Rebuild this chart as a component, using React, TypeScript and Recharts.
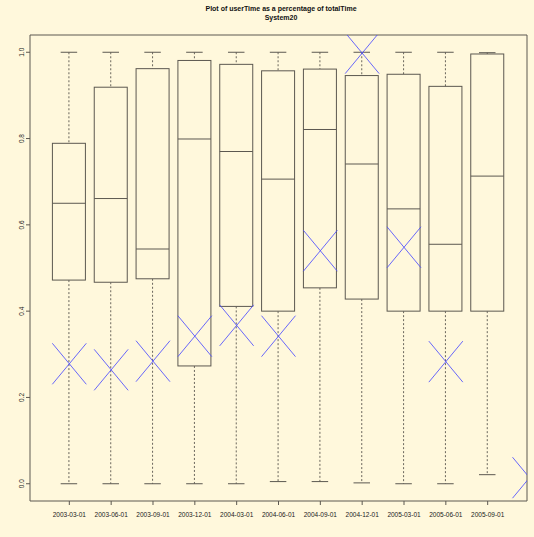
import React from "react";
import {
  ComposedChart,
  Bar,
  Scatter,
  XAxis,
  YAxis,
  ReferenceArea,
} from "recharts";

// box statistics, one entry per quarter
const categories = [
  "2003-03-01",
  "2003-06-01",
  "2003-09-01",
  "2003-12-01",
  "2004-03-01",
  "2004-06-01",
  "2004-09-01",
  "2004-12-01",
  "2005-03-01",
  "2005-06-01",
  "2005-09-01",
];
const whiskerLow = [0, 0, 0, 0, 0, 0.005, 0.005, 0.002, 0, 0, 0.021];
const lowerQuartile = [0.472, 0.467, 0.475, 0.273, 0.411, 0.4, 0.454, 0.428, 0.4, 0.4, 0.4];
const medians = [0.65, 0.661, 0.544, 0.799, 0.77, 0.706, 0.821, 0.741, 0.637, 0.555, 0.713];
const upperQuartile = [0.789, 0.919, 0.962, 0.981, 0.972, 0.957, 0.961, 0.946, 0.949, 0.921, 0.996];
const whiskerHigh = [1, 1, 1, 1, 1, 1, 1, 1, 1, 1, 0.999];
// means are plotted at positions 1..12 (the last one falls outside the frame)
const means: (number | null)[] = [
  0.278, 0.264, 0.284, 0.342, 0.367, 0.342, 0.54, 0.998, 0.548, 0.283, null, 0.014,
];
const yTicks = [0, 0.2, 0.4, 0.6, 0.8, 1.0];

const boxData = categories.map((c, i) => ({
  pos: i + 1,
  label: c,
  lo: whiskerLow[i],
  q1: lowerQuartile[i],
  med: medians[i],
  q3: upperQuartile[i],
  hi: whiskerHigh[i],
}));

const meanData = means
  .map((m, i) => ({ pos: i + 1, mean: m }))
  .filter((d) => d.mean !== null);

const LINE = "#5c5850";
const BG = "#FFF8DC";

const BoxShape = (props: any) => {
  const { x, y, width, height, payload } = props;
  if (!payload || height === undefined) return null;
  const top = Math.min(y, y + height);
  const h = Math.abs(height);
  const { lo, q1, med, q3, hi } = payload;
  const span = hi - lo || 1;
  const py = (v: number) => top + ((hi - v) / span) * h;
  const cx = x + width / 2;
  const cap = width / 4;
  return (
    <g>
      <line x1={cx} x2={cx} y1={py(hi)} y2={py(q3)} stroke="#6a665c" strokeDasharray="2 2" />
      <line x1={cx} x2={cx} y1={py(q1)} y2={py(lo)} stroke="#6a665c" strokeDasharray="2 2" />
      <line x1={cx - cap} x2={cx + cap} y1={py(hi)} y2={py(hi)} stroke={LINE} />
      <line x1={cx - cap} x2={cx + cap} y1={py(lo)} y2={py(lo)} stroke={LINE} />
      <rect x={x} y={py(q3)} width={width} height={py(q1) - py(q3)} fill={BG} stroke={LINE} />
      <line x1={x} x2={x + width} y1={py(med)} y2={py(med)} stroke={LINE} />
    </g>
  );
};

const Cross = (props: any) => {
  const { cx, cy } = props;
  if (cx == null || cy == null) return null;
  const dx = 17;
  const dy = 20.5;
  return (
    <g stroke="#4d4dff" strokeWidth={0.85}>
      <line x1={cx - dx} y1={cy - dy} x2={cx + dx} y2={cy + dy} />
      <line x1={cx - dx} y1={cy + dy} x2={cx + dx} y2={cy - dy} />
    </g>
  );
};

const YTick = (props: any) => {
  const { x, y, payload } = props;
  return (
    <text
      x={x}
      y={y}
      transform={`rotate(-90 ${x} ${y})`}
      textAnchor="middle"
      fontSize={6.5}
      fill="#222"
      fontFamily="Liberation Sans, Arial, sans-serif"
    >
      {Number(payload.value).toFixed(1)}
    </text>
  );
};

export default function App() {
  return (
    <div
      style={{
        position: "absolute",
        left: 0,
        top: 0,
        width: 534,
        height: 537,
        background: BG,
        fontFamily: "Liberation Sans, Arial, sans-serif",
      }}
    >
      <div
        style={{
          position: "absolute",
          left: 131,
          width: 300,
          top: 4,
          textAlign: "center",
          fontSize: 7,
          fontWeight: "bold",
          lineHeight: "9px",
          color: "#111",
        }}
      >
        Plot of userTime as a percentage of totalTime
        <br />
        System20
      </div>
      <ComposedChart
        width={534}
        height={537}
        data={boxData}
        margin={{ top: 35, right: 7, bottom: 0, left: 0 }}
        style={{ position: "absolute", left: 0, top: 0 }}
      >
        <XAxis
          dataKey="pos"
          type="number"
          domain={[0.06, 11.94]}
          allowDataOverflow
          ticks={categories.map((_, i) => i + 1)}
          tickFormatter={(v) => categories[Number(v) - 1] ?? ""}
          interval={0}
          height={36}
          axisLine={false}
          tickLine={{ stroke: LINE }}
          tickSize={4}
          tickMargin={7}
          tick={{ fontSize: 6.5, fill: "#222" }}
        />
        <YAxis
          type="number"
          domain={[-0.04, 1.04]}
          allowDataOverflow
          ticks={yTicks}
          width={30}
          axisLine={false}
          tickLine={{ stroke: LINE }}
          tickSize={4}
          tickMargin={2}
          tick={<YTick />}
        />
        <Bar
          dataKey={(d: any) => [d.lo, d.hi]}
          barSize={33}
          shape={<BoxShape />}
          isAnimationActive={false}
        />
        <Scatter
          data={meanData}
          dataKey="mean"
          shape={<Cross />}
          isAnimationActive={false}
        />
        <ReferenceArea
          x1={0.06}
          x2={11.94}
          y1={-0.04}
          y2={1.04}
          fill="none"
          stroke={LINE}
          ifOverflow="visible"
        />
      </ComposedChart>
    </div>
  );
}
